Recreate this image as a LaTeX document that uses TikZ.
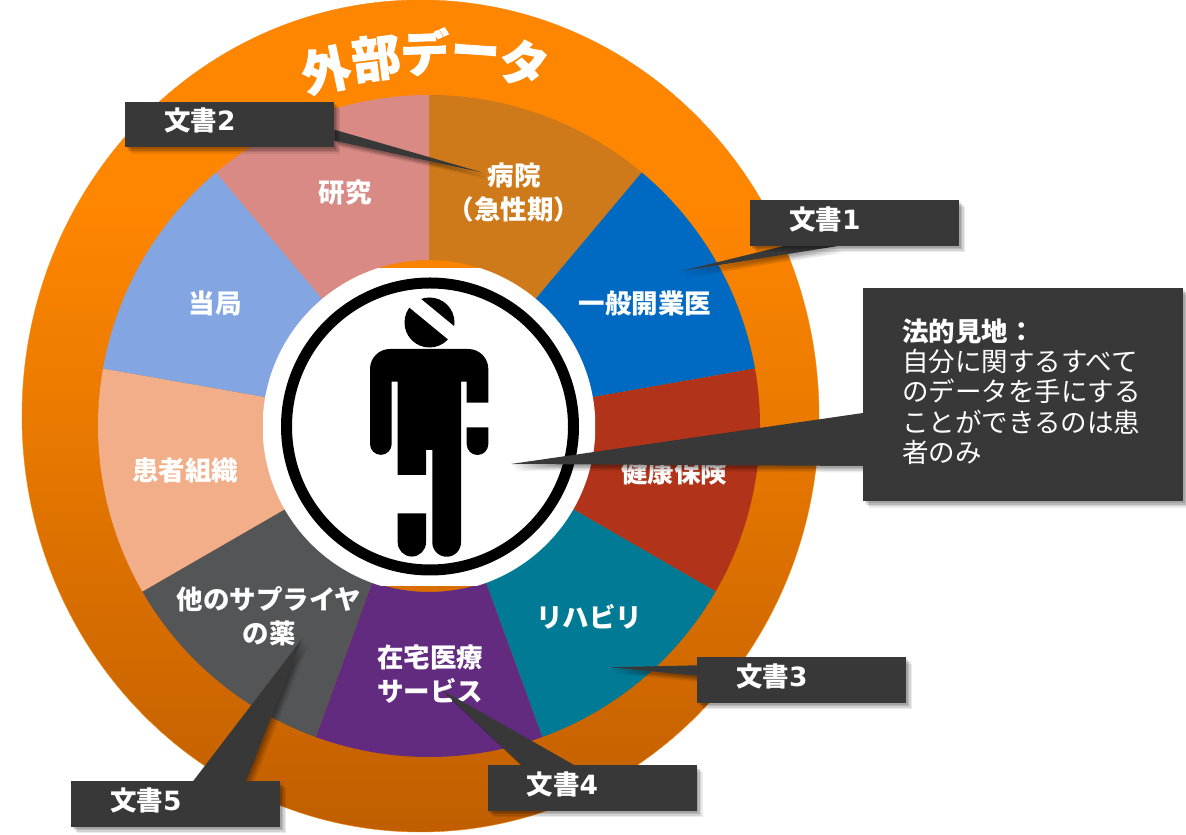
\documentclass[tikz,border=0pt]{standalone}
\usepackage{fontspec}
\usetikzlibrary{calc}
\usetikzlibrary{shadows}
\setmainfont{Noto Sans CJK JP}
\newfontfamily\digitfont{DejaVu Sans}
\newfontfamily\titlefont[FakeBold=1.6]{Noto Sans CJK JP}
\definecolor{ringtop}{RGB}{255, 134, 0}
\definecolor{ringmid}{RGB}{234, 122, 0}
\definecolor{ringlow}{RGB}{192, 94, 0}
\definecolor{ringedge}{RGB}{240, 135, 20}
\definecolor{hospital}{RGB}{207, 122, 26}
\definecolor{clinic}{RGB}{0, 105, 193}
\definecolor{insurance}{RGB}{177, 51, 25}
\definecolor{rehab}{RGB}{1, 122, 150}
\definecolor{homecare}{RGB}{98, 43, 128}
\definecolor{supplier}{RGB}{84, 85, 87}
\definecolor{patientorg}{RGB}{241, 174, 137}
\definecolor{authority}{RGB}{131, 165, 226}
\definecolor{research}{RGB}{217, 138, 132}
\definecolor{slate}{RGB}{56, 56, 56}
\pgfdeclarelayer{front}
\pgfsetlayers{main,front}
\pgfdeclareverticalshading{ringfade}{100bp}{color(0bp)=(ringlow); color(25bp)=(ringlow); color(50bp)=(ringmid); color(63bp)=(ringtop); color(100bp)=(ringtop)}
\tikzset{
  soft/.style={
    drop shadow={shadow xshift=1.5pt, shadow yshift=-2pt, opacity=.12, fill=black},
    drop shadow={shadow xshift=3pt, shadow yshift=-3.5pt, opacity=.12, fill=black},
    drop shadow={shadow xshift=4.5pt, shadow yshift=-5pt, opacity=.1, fill=black},
    drop shadow={shadow xshift=6pt, shadow yshift=-6.5pt, opacity=.08, fill=black}},
  slicetext/.style={text=white, align=center, font=\fontsize{26.5}{34}\selectfont\bfseries},
  titletext/.style={text=white, inner sep=0pt, font=\fontsize{49}{49}\selectfont\titlefont\bfseries},
  docbox/.style={fill=slate, soft, anchor=north west, text=white, text width=131pt, inner xsep=39pt, inner ysep=0pt,
    text height=29pt, text depth=16.5pt, align=left, font=\fontsize{26.5}{30}\selectfont\bfseries},
  notebox/.style={fill=slate, soft, anchor=north west, text=white, text width=242pt, inner xsep=39pt, inner ysep=0pt,
    minimum height=213pt, align=left, font=\fontsize{26.5}{30.4}\selectfont},
  tipfill/.style={fill=slate, soft}
}
\newcommand{\docname}[1]{文書{\digitfont #1}}
\begin{document}
\begin{tikzpicture}[x=1pt, y=1pt]
  \useasboundingbox (0,0) rectangle (1186,835);
  % outer ring
  \draw[ringedge, shading=ringfade] (420.5,419) ellipse (398.5 and 416);
  % nine sectors
  \foreach \a/\c in {90/hospital, 50/clinic, 10/insurance, -30/rehab, -70/homecare, -110/supplier, -150/patientorg, -190/authority, -230/research}
    \fill[\c] (429,409) ++(\a:331) arc (\a:\a-40:331) -- ++(\a-40:-165) arc (\a-40:\a:166) -- cycle;
  % title
  \node[titletext, rotate=12] (titlea) at (326,765) {外};
  \node[titletext, rotate=7] (titleb) at (376,777) {部};
  \node[titletext, rotate=2] (titlec) at (425,783) {デ};
  \node[titletext, rotate=-4] (titled) at (475,778) {ー};
  \node[titletext, rotate=-12] (titlee) at (524,772) {タ};
  % patient sign
  \begin{scope}
    \clip (263,566) rectangle (595,249);
    \fill[white] (429,408.5) circle (166.4);
  \end{scope}
  \draw[black, line width=11pt] (430,408.5) circle (143.5);
  \fill[black] (429.5,512.5) circle (25);
  \draw[white, line width=14pt] (405.6,539.6) -- (459.6,495.2);
  \fill[black] (370,391) arc (180:360:10.85) -- (391.7,453.3) -- (397.7,453.3) -- (397.7,360) -- (426,360) -- (426,385) -- (432.3,385)
    -- (432.3,292.6) arc (180:360:14.35) -- (461,453.3) -- (466.7,453.3) -- (466.7,432.3) -- (488.3,432.3)
    -- (488.3,466) arc (0:90:20) -- (390,486) arc (90:180:20) -- cycle;
  \fill[black] (397.7,321.7) -- (426,321.7) -- (426,292.6) arc (0:-180:14.15) -- cycle;
  \fill[black] (466.7,407.7) -- (488.3,407.7) -- (488.3,390.8) arc (0:-180:10.8) -- cycle;
  % sector labels
  \node[slicetext] (hospitaltext) at (514,642.5) {病院\\（急性期）};
  \node[slicetext] (clinictext) at (645,532) {一般開業医};
  \node[slicetext] (insurancetext) at (674,362) {健康保険};
  \node[slicetext] (rehabtext) at (589,218) {リハビリ};
  \node[slicetext] (homecaretext) at (430,161) {在宅医療\\サービス};
  \node[slicetext] (suppliertext) at (269,219) {他のサプライヤ\\の薬};
  \node[slicetext] (patientorgtext) at (185,364) {患者組織};
  \node[slicetext] (authoritytext) at (215,532) {当局};
  \node[slicetext] (researchtext) at (345,642) {研究};
  % callouts
  \begin{pgfonlayer}{front}
    \node[docbox] (docone) at (750,634.7) {\docname{1}};
    \node[docbox] (doctwo) at (125,733.3) {\docname{2}};
    \node[docbox] (docthree) at (697,177.7) {\docname{3}};
    \node[docbox] (docfour) at (487.5,70) {\docname{4}};
    \node[docbox] (docfive) at (71,53.7) {\docname{5}};
    \node[notebox] (legalnote) at (863,547) {\textbf{法的見地：}\\自分に関するすべて\\のデータを手にする\\ことができるのは患\\者のみ\\[-22pt]\mbox{}};
  \end{pgfonlayer}
  \coordinate (tipone) at (681.7,564);
  \coordinate (tiptwo) at (483,662.3);
  \coordinate (tipthree) at (610,167.7);
  \coordinate (tipfour) at (442,145);
  \coordinate (tipfive) at (302,196);
  \coordinate (tiplegal) at (511,371);
  \fill[tipfill] ($(docone.south west)+(33,0)$) -- (tipone) -- ($(docone.south west)+(87,0)$) -- cycle;
  \fill[tipfill] ($(doctwo.north east)+(0,-28)$) -- (tiptwo) -- ($(doctwo.north east)+(0,-39)$) -- cycle;
  \fill[tipfill] ($(docthree.north west)+(0,-8)$) -- (tipthree) -- ($(docthree.north west)+(0,-18.5)$) -- cycle;
  \fill[tipfill] ($(docfour.north west)+(34,0)$) -- (tipfour) -- ($(docfour.north west)+(86.5,0)$) -- cycle;
  \fill[tipfill] ($(docfive.north west)+(122,0)$) -- (tipfive) -- ($(docfive.north west)+(175,0)$) -- cycle;
  \fill[tipfill] ($(legalnote.north west)+(0,-125)$) -- (tiplegal) -- ($(legalnote.north west)+(0,-178)$) -- cycle;
\end{tikzpicture}
\end{document}
